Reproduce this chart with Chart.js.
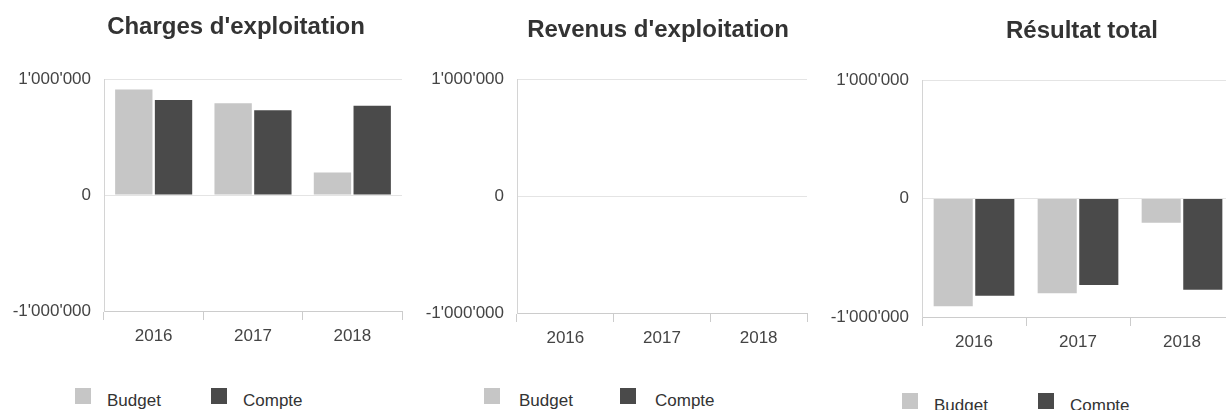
<!DOCTYPE html>
<html>
<head>
<meta charset="utf-8">
<script src="https://cdn.jsdelivr.net/npm/chart.js@4.4.1/dist/chart.umd.min.js"></script>
<style>
    body { margin: 0; width: 1226px; height: 410px; overflow: hidden; background: #fff; position: relative; }
    .panel { position: absolute; top: 0; }
    .title { position: absolute; width: 400px; text-align: center; font: bold 24px/28.8px "Liberation Sans", Arial, sans-serif; color: #333; }
    .legend { position: absolute; font: 17px "Liberation Sans", Arial, sans-serif; color: #333; }
    .legend .item { position: absolute; top: 0; white-space: nowrap; }
    .legend .box { position: absolute; left: 0; top: 0; width: 16px; height: 16px; }
    .legend .txt { position: absolute; top: 3px; }
</style>
</head>
<body>

<div class="panel" style="left:0px"><canvas id="c1" width="410" height="350"></canvas></div>
<div class="panel" style="left:410px"><canvas id="c2" width="410" height="350"></canvas></div>
<div class="panel" style="left:816px"><canvas id="c3" width="420" height="350"></canvas></div>

<div class="title" id="t1" style="left:36px; top:12px"></div>
<div class="title" id="t2" style="left:458px; top:15px"></div>
<div class="title" id="t3" style="left:882px; top:16px"></div>

<div class="legend" id="l1" style="left:75px; top:388px"></div>
<div class="legend" id="l2" style="left:484px; top:388px"></div>
<div class="legend" id="l3" style="left:902px; top:393px"></div>

<script>
const years = ['2016', '2017', '2018'];
const seriesNames = ['Budget', 'Compte'];

const chargesBudget  = [910000, 790000, 195000];
const chargesCompte  = [820000, 730000, 770000];
const revenusBudget  = [0, 0, 0];
const revenusCompte  = [0, 0, 0];
const resultatBudget = [-910000, -800000, -205000];
const resultatCompte = [-820000, -730000, -770000];

const yTicks = [-1000000, 0, 1000000];

const colBudget = '#c6c6c6';
const colCompte = '#4a4a4a';
const font = '"Liberation Sans", Arial, sans-serif';

const fmt = (v) => {
    const s = Math.abs(v).toString().replace(/\B(?=(\d{3})+(?!\d))/g, "'");
    return (v < 0 ? '-' : '') + s;
};

const createChart = (id, titleId, legendId, title, budget, compte, opt) => {
    const ctx = document.getElementById(id);
    document.getElementById(titleId).textContent = title;

    const chart = new Chart(ctx, {
        type: 'bar',
        data: {
            labels: years,
            datasets: [{
                label: seriesNames[0],
                data: budget,
                backgroundColor: colBudget,
                borderWidth: 0
            }, {
                label: seriesNames[1],
                data: compte,
                backgroundColor: colCompte,
                borderWidth: 0
            }]
        },
        options: {
            responsive: false,
            animation: false,
            devicePixelRatio: 1,
            categoryPercentage: 0.8,
            barPercentage: 0.94,
            layout: {
                padding: { left: 0, right: opt.padRight, top: opt.top, bottom: 0 }
            },
            plugins: {
                legend: { display: false },
                tooltip: { enabled: false }
            },
            scales: {
                x: {
                    afterFit: (scale) => { scale.height = 350 - opt.bottom; },
                    border: { color: '#cccccc' },
                    grid: {
                        offset: true,
                        drawOnChartArea: false,
                        drawTicks: true,
                        tickLength: 9,
                        color: '#cccccc'
                    },
                    ticks: {
                        color: '#444',
                        padding: 6,
                        font: { family: font, size: 17 }
                    }
                },
                y: {
                    min: yTicks[0],
                    max: yTicks[yTicks.length - 1],
                    afterFit: (scale) => { scale.width = opt.yWidth; },
                    afterBuildTicks: (scale) => { scale.ticks = yTicks.map((v) => ({ value: v })); },
                    border: { color: '#d4d4d4' },
                    grid: {
                        drawTicks: false,
                        color: '#e4e4e4'
                    },
                    ticks: {
                        color: '#444',
                        padding: 13,
                        font: { family: font, size: 17 },
                        callback: (v) => fmt(v)
                    }
                }
            }
        }
    });

    // html legend, built from the chart's own legend items
    const items = Chart.defaults.plugins.legend.labels.generateLabels(chart);
    const box = document.getElementById(legendId);
    items.forEach((it, i) => {
        const el = document.createElement('div');
        el.className = 'item';
        el.style.left = (i * 136) + 'px';
        el.innerHTML = '<span class="box" style="background:' + it.fillStyle + '"></span>' +
                       '<span class="txt" style="left:' + opt.textGap + 'px">' + it.text + '</span>';
        box.appendChild(el);
    });

    return chart;
};

createChart('c1', 't1', 'l1', "Charges d'exploitation", chargesBudget, chargesCompte,
    { padRight: 8, yWidth: 104, top: 79, bottom: 311, textGap: 32 });
createChart('c2', 't2', 'l2', "Revenus d'exploitation", revenusBudget, revenusCompte,
    { padRight: 13, yWidth: 107, top: 79, bottom: 313, textGap: 35 });
createChart('c3', 't3', 'l3', 'Résultat total', resultatBudget, resultatCompte,
    { padRight: 2, yWidth: 106, top: 80, bottom: 317, textGap: 32 });
</script>
</body>
</html>
